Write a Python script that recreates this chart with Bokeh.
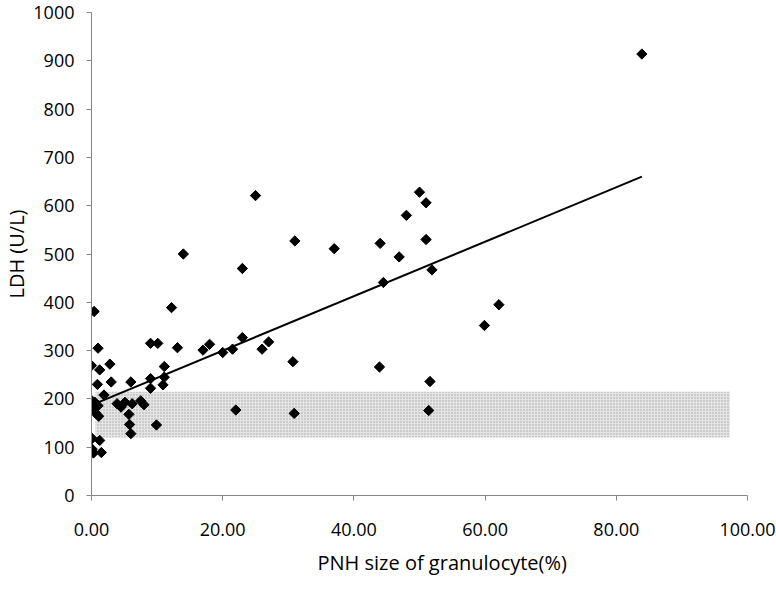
import numpy as np
from bokeh.plotting import figure
from bokeh.models import ColumnDataSource, NumeralTickFormatter, FixedTicker, Title, Range1d
from bokeh.embed import file_html
from bokeh.resources import INLINE

# PNH clone size of granulocytes (%) and LDH (U/L)
pnh_size = [0.4, 1.0, 0.0, 1.25, 2.8, 0.9, 3.0, 6.0, 1.9, 0.0, 0.2, 0.4, 1.0, 0.0,
            0.6, 1.1, 0.5, 3.9, 4.5, 5.1, 6.2, 7.5, 8.0, 5.7, 5.8, 6.0, 9.9, 9.0,
            11.1, 9.0, 10.9, 11.1, 0.1, 1.25, 0.1, 0.3, 1.5, 9.0, 10.1, 12.2,
            13.1, 14.0, 17.0, 18.0, 20.0, 21.5, 23.0, 23.0, 26.0, 27.0, 22.0,
            25.0, 30.7, 30.9, 31.0, 37.0, 44.0, 44.5, 43.9, 46.9, 48.0, 50.0,
            51.0, 51.0, 51.9, 51.6, 51.4, 59.9, 62.1, 83.9]
ldh = [381, 305, 269, 260, 272, 230, 235, 235, 208, 197, 190, 186, 186, 178,
       171, 164, 193, 190, 183, 193, 190, 196, 188, 168, 147, 128, 146, 242,
       245, 222, 229, 267, 118, 114, 96, 88, 89, 315, 315, 389,
       306, 500, 301, 313, 296, 303, 327, 470, 303, 318, 177,
       621, 277, 170, 527, 511, 522, 441, 266, 494, 580, 628,
       606, 530, 467, 236, 176, 352, 395, 914]

# linear trendline
trend_slope = 5.64
trend_intercept = 187.0

# normal LDH reference band
band_pnh = [0.6, 97.3]
band_ldh = [120, 215]

x_ticks = [0, 20, 40, 60, 80, 100]
y_ticks = [0, 100, 200, 300, 400, 500, 600, 700, 800, 900, 1000]

x_title = "PNH size of granulocyte(%)"
y_title = "LDH (U/L)"

FONT = "Open Sans"

p = figure(width=776, height=589, output_backend="svg", toolbar_location=None,
           x_range=Range1d(0, 100), y_range=Range1d(0, 1000),
           min_border_left=84, min_border_right=29, min_border_top=12, min_border_bottom=94)
p.outline_line_color = None
p.xgrid.grid_line_color = None
p.ygrid.grid_line_color = None

# shaded band
p.quad(left=band_pnh[0], right=band_pnh[1], bottom=band_ldh[0], top=band_ldh[1],
       fill_color="#e4e4e4", line_color=None,
       hatch_pattern="dot", hatch_color="#a8a8a8", hatch_scale=3, hatch_weight=1)

# trendline
tx = np.array([min(pnh_size), max(pnh_size)])
p.line(tx, trend_intercept + trend_slope * tx, line_color="black", line_width=2)

src = ColumnDataSource(dict(x=pnh_size, y=ldh))
p.scatter("x", "y", source=src, marker="square", angle=np.pi / 4, size=7.3,
          fill_color="black", line_color="black")

for ax in (p.xaxis[0], p.yaxis[0]):
    ax.axis_line_color = "#868686"
    ax.major_tick_line_color = "#868686"
    ax.minor_tick_line_color = None
    ax.major_tick_in = 0
    ax.major_tick_out = 5
    ax.major_label_text_font = FONT
    ax.major_label_text_font_size = "18px"
    ax.major_label_text_color = "black"

p.xaxis.ticker = FixedTicker(ticks=x_ticks)
p.yaxis.ticker = FixedTicker(ticks=y_ticks)
p.xaxis.formatter = NumeralTickFormatter(format="0.00")
p.xaxis.major_label_standoff = 22
p.yaxis.major_label_standoff = 12

p.yaxis.axis_label = y_title
p.yaxis.axis_label_text_font = FONT
p.yaxis.axis_label_text_font_size = "20px"
p.yaxis.axis_label_text_font_style = "normal"
p.yaxis.axis_label_text_color = "black"
p.yaxis.axis_label_standoff = 0

p.add_layout(Title(text=x_title, align="left", offset=226, vertical_align="top",
                   text_font=FONT, text_font_size="20px", text_font_style="normal",
                   text_color="black", standoff=21), "below")

open("out.html", "w").write(file_html(p, INLINE))
